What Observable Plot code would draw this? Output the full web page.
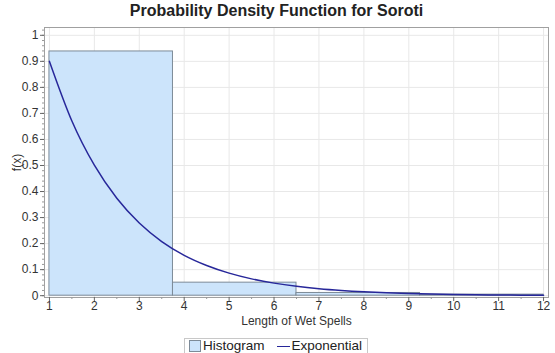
<!DOCTYPE html>
<html>
<head>
<meta charset="utf-8">
<script src="https://cdn.jsdelivr.net/npm/d3@7"></script>
<script src="https://cdn.jsdelivr.net/npm/@observablehq/plot@0.6"></script>
<style>
  body { margin: 0; background: #fff; font-family: "Liberation Sans", Arial, sans-serif; }
  #wrap { position: relative; width: 555px; height: 353px; }
  #title { position: absolute; top: 2px; left: 0; width: 553px; text-align: center; z-index: 2;
           font-weight: bold; font-size: 16px; color: #222; }
  #chart { position: absolute; top: 0; left: 0; z-index: 1; }
  #legend { position: absolute; top: 338px; left: 0; width: 552px; text-align: center; z-index: 2; }
  #legend .box { display: inline-flex; align-items: center; border: 1px solid #c8c8c8;
                 padding: 0 5px 0 4px; font-size: 13.5px; color: #222; height: 14px; line-height: 14px; }
  .sw { display: inline-block; width: 12px; height: 12px; background: #cce4fb;
        border: 1px solid #7d8b98; margin-right: 2px; box-sizing: border-box; }
  .ln { display: inline-block; width: 13px; height: 0; border-top: 1.5px solid #27279a;
        margin: 0 1px 0 13px; }
</style>
</head>
<body>
<div id="wrap">
  <div id="title">Probability Density Function for Soroti</div>
  <div id="chart"></div>
  <div id="legend"><span class="box"><span class="sw"></span>Histogram<span class="ln"></span>Exponential</span></div>
</div>
<script>
// Histogram of wet-spell lengths (bin edges and density heights)
const binStart = [1, 3.75, 6.5, 9.25];
const binEnd = [3.75, 6.5, 9.25, 12];
const density = [0.938, 0.05, 0.0104, 0.004];

// Fitted exponential density sampled along the spell length
const curveX = [1, 1.5, 2, 2.5, 3, 3.5, 4, 4.5, 5, 5.5, 6, 6.5, 7, 7.5, 8, 8.5, 9, 9.5, 10, 10.5, 11, 11.5, 12];
const curveY = [0.900, 0.671, 0.501, 0.374, 0.279, 0.208, 0.155, 0.116, 0.0866, 0.0646, 0.0482, 0.036,
                0.0268, 0.020, 0.0149, 0.0111, 0.0083, 0.0062, 0.0046, 0.0034, 0.0026, 0.0019, 0.0014];

// Axis ticks
const xTicks = [1, 2, 3, 4, 5, 6, 7, 8, 9, 10, 11, 12];
const yTicks = [0, 0.1, 0.2, 0.3, 0.4, 0.5, 0.6, 0.7, 0.8, 0.9, 1];

const bins = binStart.map((s, i) => ({x1: s, x2: binEnd[i], y: density[i]}));
const curve = curveX.map((x, i) => ({x, y: curveY[i]}));
const xMinor = d3.range(1.5, 12, 1);
const yMinor = d3.range(0, 1.0301, 0.02);
const noLabel = () => "";

const chart = Plot.plot({
  width: 555,
  height: 330,
  marginTop: 27,
  marginBottom: 33,
  marginLeft: 44,
  marginRight: 7,
  style: {fontFamily: "'Liberation Sans', Arial, sans-serif", fontSize: "12px", color: "#333", background: "transparent"},
  x: {domain: [0.89, 12.11]},
  y: {domain: [-0.007, 1.03]},
  marks: [
    Plot.gridX(xTicks, {stroke: "#e8e8e8", strokeOpacity: 1}),
    Plot.gridY(yTicks, {stroke: "#e8e8e8", strokeOpacity: 1}),
    Plot.rectY(bins, {x1: "x1", x2: "x2", y: "y", fill: "#cce4fb", stroke: "#7d8b98", strokeWidth: 1}),
    Plot.line(curve, {x: "x", y: "y", stroke: "#27279a", strokeWidth: 1.5, curve: "monotone-x"}),
    Plot.frame({stroke: "#a0a0a0"}),
    Plot.axisX(xMinor, {tickSize: 2, tickFormat: noLabel, label: null, stroke: "#999"}),
    Plot.axisX(xTicks, {tickSize: 4, tickPadding: 0, stroke: "#666", fill: "#333", fontSize: 12,
      label: "Length of Wet Spells", labelAnchor: "center", labelArrow: "none", labelOffset: 27}),
    Plot.axisY(yMinor, {tickSize: 2, tickFormat: noLabel, label: null, stroke: "#999"}),
    Plot.axisY(yTicks, {tickSize: 4, tickPadding: 2, stroke: "#666", fill: "#333", fontSize: 12,
      tickFormat: d3.format("~g"),
      label: "f(x)", labelAnchor: "center", labelArrow: "none", labelOffset: 32})
  ]
});
document.getElementById("chart").appendChild(chart);
</script>
</body>
</html>
